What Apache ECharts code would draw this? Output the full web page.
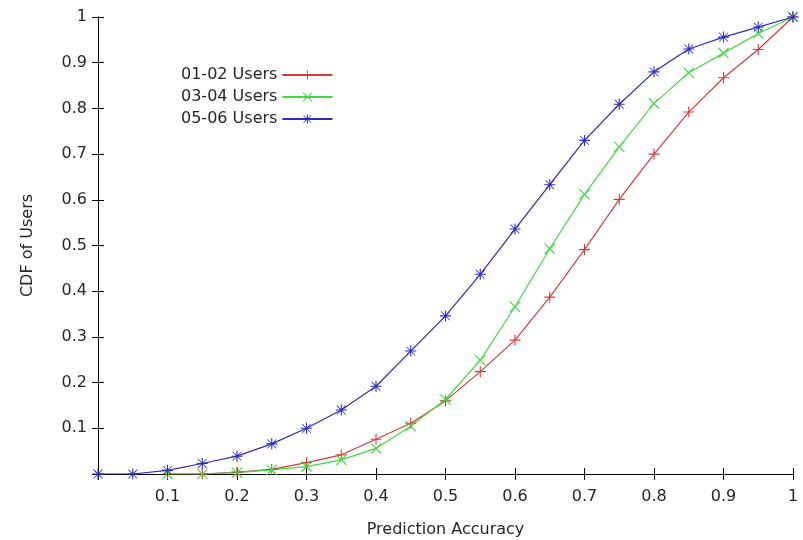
<!DOCTYPE html>
<html>
<head>
<meta charset="utf-8">
<script src="https://cdn.jsdelivr.net/npm/echarts@6/dist/echarts.min.js"></script>
<style>
  html, body { margin: 0; padding: 0; background: #fff; }
  #chart { width: 803px; height: 540px; }
</style>
</head>
<body>
<div id="chart"></div>
<script>
// Prediction accuracy grid (x) and CDF values per user group
const accBlue = [0, 0.05, 0.1, 0.15, 0.2, 0.25, 0.3, 0.35, 0.4, 0.45, 0.5, 0.55, 0.6, 0.65, 0.7, 0.75, 0.8, 0.85, 0.9, 0.95, 1.0];
const accRG = [0.1, 0.15, 0.2, 0.25, 0.3, 0.35, 0.4, 0.45, 0.5, 0.55, 0.6, 0.65, 0.7, 0.75, 0.8, 0.85, 0.9, 0.95, 1.0];

const users0102 = [0, 0, 0.004, 0.010, 0.025, 0.042, 0.076, 0.111, 0.160, 0.224, 0.293, 0.387, 0.491, 0.601, 0.700, 0.792, 0.867, 0.929, 1.0];
const users0304 = [0, 0, 0.003, 0.009, 0.016, 0.031, 0.056, 0.105, 0.163, 0.249, 0.366, 0.493, 0.612, 0.716, 0.811, 0.878, 0.921, 0.964, 1.0];
const users0506 = [0, 0, 0.008, 0.023, 0.039, 0.066, 0.100, 0.140, 0.192, 0.269, 0.346, 0.437, 0.536, 0.633, 0.730, 0.809, 0.880, 0.930, 0.956, 0.978, 1.0];

const seriesNames = ['01-02 Users', '03-04 Users', '05-06 Users'];

// gnuplot-style point glyphs built from thin filled bars
const PLUS = 'path://M9,0 L11,0 L11,20 L9,20 Z M0,9 L20,9 L20,11 L0,11 Z';
const CROSS = 'path://M0,1.5 L1.5,0 L20,18.5 L18.5,20 Z M18.5,0 L20,1.5 L1.5,20 L0,18.5 Z';
const STAR = 'path://M9,0 L11,0 L11,20 L9,20 Z M0,9 L20,9 L20,11 L0,11 Z M1.5,2.5 L2.5,1.5 L18.5,17.5 L17.5,18.5 Z M17.5,1.5 L18.5,2.5 L2.5,18.5 L1.5,17.5 Z';

const FONT = 'DejaVu Sans';
const TEXT = '#262626';
const FS = 16;

function pairs(xs, ys) { return xs.map((x, i) => [x, ys[i]]); }

function mkSeries(name, xs, ys, color, symbol, size) {
  return {
    name: name,
    type: 'line',
    data: pairs(xs, ys),
    symbol: symbol,
    symbolSize: size,
    showSymbol: true,
    smooth: false,
    lineStyle: { color: color, width: 1.2 },
    itemStyle: { color: color, borderWidth: 0 },
    emphasis: { disabled: true },
    animation: false
  };
}

const labelFmt = v => (Math.abs(v) < 1e-9 ? '' : String(Math.round(v * 10) / 10));

const axisLine = { show: true, lineStyle: { color: '#000', width: 1 } };
const tick = { show: true, inside: true, length: 6, lineStyle: { color: '#000', width: 1 } };

const chart = echarts.init(document.getElementById('chart'), null, { renderer: 'canvas' });
chart.setOption({
  backgroundColor: '#fff',
  animation: false,
  textStyle: { fontFamily: FONT },
  grid: { left: 98, right: 10, top: 17, bottom: 66, containLabel: false, outerBoundsMode: 'none' },
  legend: {
    data: seriesNames,
    orient: 'vertical',
    align: 'right',
    left: 176,
    top: 62,
    itemWidth: 50,
    itemHeight: 12,
    itemGap: 6,
    textStyle: { fontFamily: FONT, fontSize: FS, color: TEXT },
    selectedMode: false
  },
  xAxis: [
    {
      type: 'value', min: 0, max: 1, interval: 0.1, position: 'bottom',
      name: 'Prediction Accuracy', nameLocation: 'middle', nameGap: 48,
      nameTextStyle: { fontFamily: FONT, fontSize: FS, color: TEXT },
      axisLine: axisLine, axisTick: tick, splitLine: { show: false },
      axisLabel: { formatter: labelFmt, margin: 15, fontFamily: FONT, fontSize: FS, color: TEXT }
    },
    {
      type: 'value', min: 0, max: 1, interval: 0.1, position: 'top',
      axisLine: axisLine, axisTick: tick, splitLine: { show: false },
      axisLabel: { show: false }
    }
  ],
  yAxis: [
    {
      type: 'value', min: 0, max: 1, interval: 0.1, position: 'left',
      name: 'CDF of Users', nameLocation: 'middle', nameGap: 62, nameRotate: 90,
      nameTextStyle: { fontFamily: FONT, fontSize: FS, color: TEXT },
      axisLine: axisLine, axisTick: tick, splitLine: { show: false },
      axisLabel: { formatter: labelFmt, margin: 11, fontFamily: FONT, fontSize: FS, color: TEXT }
    },
    {
      type: 'value', min: 0, max: 1, interval: 0.1, position: 'right',
      axisLine: axisLine, axisTick: tick, splitLine: { show: false },
      axisLabel: { show: false }
    }
  ],
  series: [
    mkSeries(seriesNames[0], accRG, users0102, '#d43c3c', PLUS, 11),
    mkSeries(seriesNames[1], accRG, users0304, '#44d844', CROSS, 11),
    mkSeries(seriesNames[2], accBlue, users0506, '#2c2cbc', STAR, 11)
  ]
});
</script>
</body>
</html>
